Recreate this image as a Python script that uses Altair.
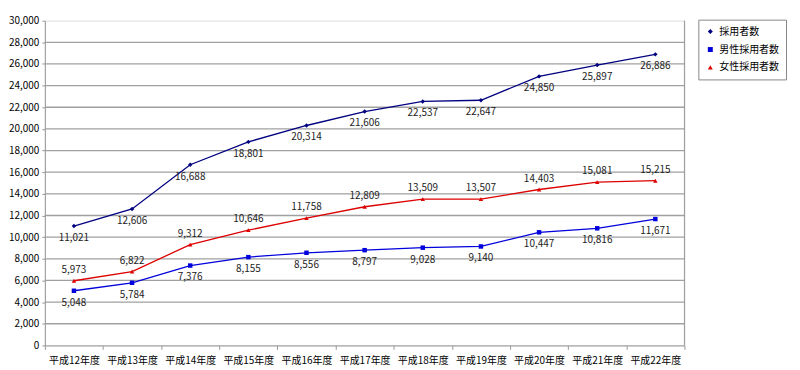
import altair as alt
import pandas as pd

years = ["平成12年度", "平成13年度", "平成14年度", "平成15年度", "平成16年度", "平成17年度",
         "平成18年度", "平成19年度", "平成20年度", "平成21年度", "平成22年度"]
total = [11021, 12606, 16688, 18801, 20314, 21606, 22537, 22647, 24850, 25897, 26886]
male = [5048, 5784, 7376, 8155, 8556, 8797, 9028, 9140, 10447, 10816, 11671]
female = [5973, 6822, 9312, 10646, 11758, 12809, 13509, 13507, 14403, 15081, 15215]
series = ["採用者数", "男性採用者数", "女性採用者数"]
colors = ["#000080", "#0000DD", "#DD0000"]
shapes = ["diamond", "square", "triangle-up"]
label_pos = ["below", "below", "above"]
grid_values = list(range(2000, 28001, 2000))

W, H = 642, 326

rows = []
for name, vals, pos in zip(series, [total, male, female], label_pos):
    for y, v in zip(years, vals):
        rows.append({"year": y, "series": name, "value": v, "pos": pos})
df = pd.DataFrame(rows)

FONT = "Noto Sans CJK JP"
yscale = alt.Scale(domain=[0, 30000], nice=False)

x = alt.X("year:N", sort=years, title=None,
          scale=alt.Scale(paddingInner=0, paddingOuter=0),
          axis=alt.Axis(labelAngle=0, labelFont=FONT, labelFontSize=10, labelColor="#000",
                        domainColor="#999", tickColor="#999", tickBand="extent",
                        tickSize=4, labelPadding=6, grid=False))
yaxis = alt.Axis(values=list(range(0, 30001, 2000)), labelExpr="format(datum.value, ',')",
                 labelFont=FONT, labelFontSize=10, labelColor="#000", domainColor="#999",
                 tickColor="#999", tickSize=3, grid=False, labelPadding=3)
y = alt.Y("value:Q", title=None, scale=yscale, axis=yaxis)
color = alt.Color("series:N", sort=series,
                  scale=alt.Scale(domain=series, range=colors),
                  legend=alt.Legend(title=None, orient="none", legendX=656, legendY=-1,
                                    labelFont=FONT, labelFontSize=10, labelColor="#000",
                                    strokeColor="#888", padding=7, rowPadding=8,
                                    symbolSize=25, symbolStrokeWidth=0, fillColor="#fff"))
shape = alt.Shape("series:N", sort=series,
                  scale=alt.Scale(domain=series, range=shapes), legend=None)

base = alt.Chart(df)

grid = alt.Chart(pd.DataFrame({"value": grid_values})).mark_rule(
    color="#a0a0a0", strokeWidth=1.3).encode(y=y)

border = alt.Chart(pd.DataFrame({"value": [0]})).mark_rule(
    color="#999", strokeWidth=1).encode(
    x=alt.value(W), y=alt.value(0), y2=alt.value(H))

lines = base.mark_line(strokeWidth=1.3).encode(x=x, y=y, color=color, detail="series:N")
points = base.mark_point(filled=True, size=20, opacity=1).encode(x=x, y=y, color=color, shape=shape)

below = base.transform_filter(alt.datum.pos == "below").mark_text(
    dy=12, font=FONT, fontSize=10, color="#222").encode(
    x=x, y=y, text=alt.Text("value:Q", format=","))
above = base.transform_filter(alt.datum.pos == "above").mark_text(
    dy=-11, font=FONT, fontSize=10, color="#222").encode(
    x=x, y=y, text=alt.Text("value:Q", format=","))

chart = alt.layer(grid, border, lines, points, below, above).properties(
    width=W, height=H, padding={"left": 0, "top": 7, "right": 5, "bottom": 5}
).configure_view(stroke=None).configure(background="#fff")

chart.save("out.html", embed_options={"renderer": "svg", "actions": False})
